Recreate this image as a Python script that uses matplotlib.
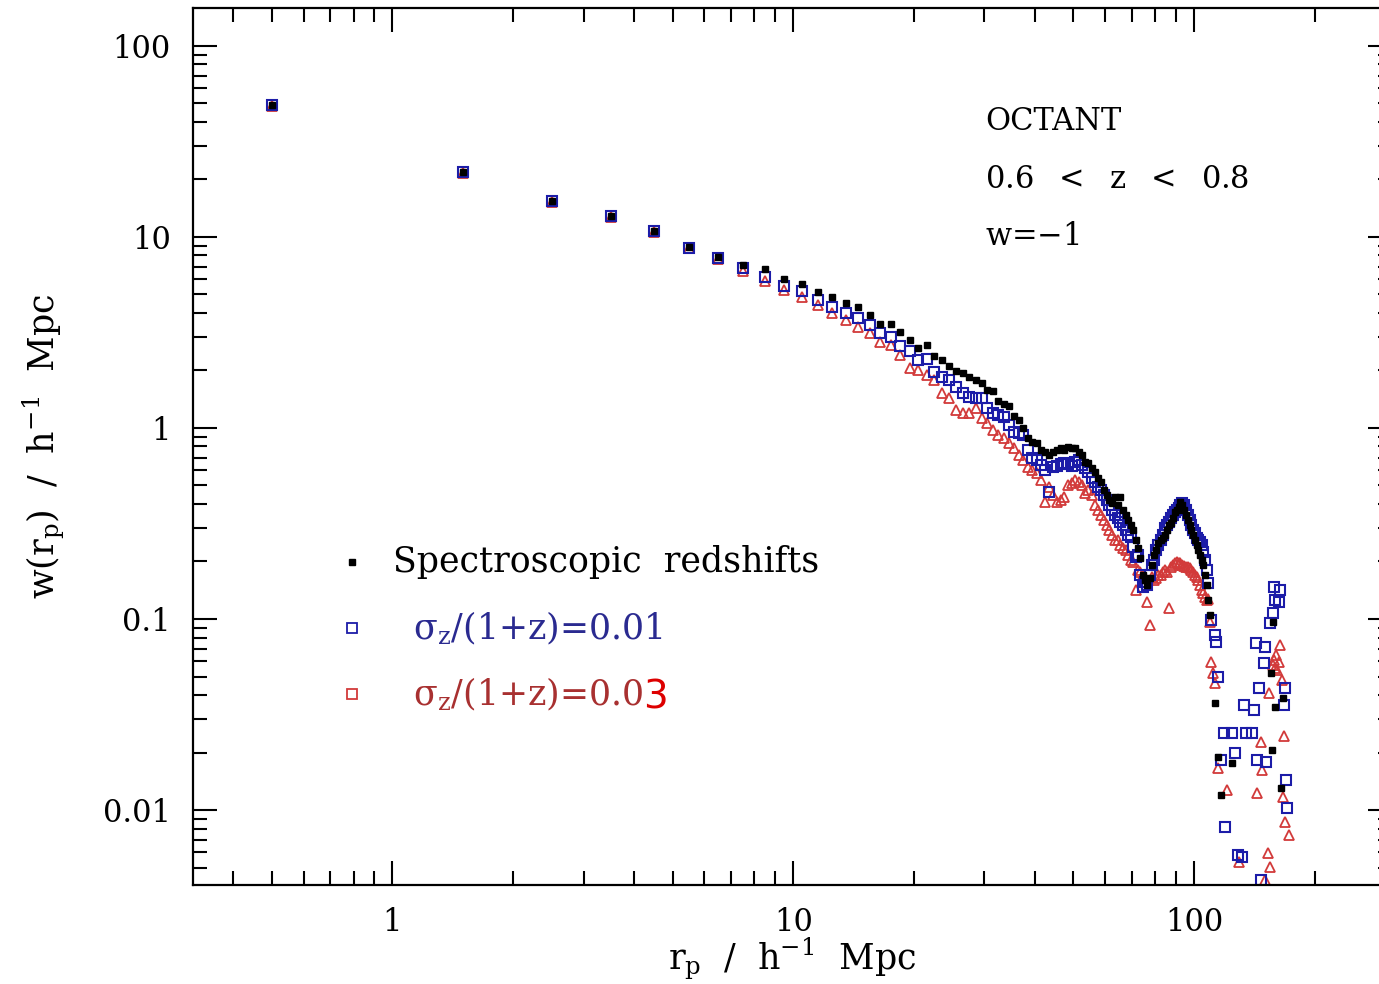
import matplotlib.pyplot as plt
from matplotlib.ticker import FixedLocator, FixedFormatter, LogLocator, NullFormatter

plt.rcParams['font.family'] = 'DejaVu Serif'
plt.rcParams['mathtext.fontset'] = 'dejavuserif'

# bin centres (h^-1 Mpc) shared by the three series up to 108.5
r_grid = [0.5, 1.5, 2.5, 3.5, 4.5, 5.5, 6.5, 7.5, 8.5, 9.5,
          10.5, 11.5, 12.5, 13.5, 14.5, 15.5, 16.5, 17.5, 18.5, 19.5,
          20.5, 21.5, 22.5, 23.5, 24.5, 25.5, 26.5, 27.5, 28.5, 29.5,
          30.5, 31.5, 32.5, 33.5, 34.5, 35.5, 36.5, 37.5, 38.5, 39.5,
          40.5, 41.5, 42.5, 43.5, 44.5, 45.5, 46.5, 47.5, 48.5, 49.5,
          50.5, 51.5, 52.5, 53.5, 54.5, 55.5, 56.5, 57.5, 58.5, 59.5,
          60.5, 61.5, 62.5, 63.5, 64.5, 65.5, 66.5, 67.5, 68.5, 69.5,
          70.5, 71.5, 72.5, 73.5, 74.5, 75.5, 76.5, 77.5, 78.5, 79.5,
          80.5, 81.5, 82.5, 83.5, 84.5, 85.5, 86.5, 87.5, 88.5, 89.5,
          90.5, 91.5, 92.5, 93.5, 94.5, 95.5, 96.5, 97.5, 98.5, 99.5,
          100.5, 101.5, 102.5, 103.5, 104.5, 105.5, 106.5, 107.5, 108.5]

# spectroscopic redshifts
w_spec = [49.1, 21.9, 15.4, 12.9, 10.7, 8.87, 7.86, 7.13, 6.81, 6.02,
          5.67, 5.16, 4.85, 4.51, 4.30, 3.90, 3.50, 3.50, 3.18, 2.89,
          2.62, 2.72, 2.38, 2.27, 2.11, 1.99, 1.94, 1.85, 1.78, 1.72,
          1.58, 1.56, 1.38, 1.34, 1.30, 1.16, 1.10, 1.00, 0.886, 0.845,
          0.835, 0.767, 0.749, 0.722, 0.749, 0.767, 0.786, 0.767, 0.795, 0.786,
          0.786, 0.749, 0.722, 0.664, 0.656, 0.617, 0.589, 0.548, 0.522, 0.474,
          0.446, 0.420, 0.405, 0.435, 0.395, 0.435, 0.372, 0.350, 0.330, 0.311,
          0.293, 0.259, 0.236, 0.209, 0.170, 0.160, 0.151, 0.163, 0.192, 0.216,
          0.230, 0.250, 0.259, 0.265, 0.275, 0.293, 0.311, 0.318, 0.338, 0.364,
          0.372, 0.386, 0.410, 0.395, 0.372, 0.350, 0.330, 0.311, 0.293, 0.275,
          0.259, 0.244, 0.230, 0.216, 0.204, 0.192, 0.170, 0.151, 0.126]
r_spec_tail = [109.5, 112.5, 114.5, 116.5, 124.5, 155.5, 156.5, 157.5, 159.5, 164.5, 166.5]
w_spec_tail = [0.105, 0.0363, 0.0190, 0.0120, 0.0176, 0.0523, 0.0207, 0.0964, 0.0345, 0.0130, 0.0386]

# sigma_z/(1+z) = 0.01
w_s01 = [49.1, 21.9, 15.4, 12.9, 10.7, 8.80, 7.80, 6.89, 6.18, 5.53,
         5.21, 4.68, 4.30, 4.00, 3.77, 3.46, 3.14, 2.99, 2.69, 2.53,
         2.27, 2.30, 1.96, 1.85, 1.78, 1.64, 1.52, 1.45, 1.44, 1.44,
         1.27, 1.20, 1.17, 1.14, 1.04, 0.953, 0.942, 0.919, 0.767, 0.696,
         0.680, 0.641, 0.603, 0.463, 0.625, 0.633, 0.648, 0.656, 0.648, 0.633,
         0.664, 0.680, 0.641, 0.617, 0.589, 0.548, 0.522, 0.491, 0.474, 0.446,
         0.420, 0.395, 0.372, 0.350, 0.338, 0.322, 0.311, 0.293, 0.275, 0.269,
         0.238, 0.211, 0.216, 0.170, 0.147, 0.156, 0.151, 0.170, 0.192, 0.204,
         0.230, 0.244, 0.259, 0.275, 0.300, 0.311, 0.322, 0.338, 0.350, 0.364,
         0.372, 0.381, 0.395, 0.405, 0.395, 0.372, 0.350, 0.330, 0.311, 0.293,
         0.282, 0.265, 0.259, 0.253, 0.244, 0.225, 0.204, 0.180, 0.154]
r_s01_tail = [110.5, 112.5, 113.5, 114.5, 116.5, 118.5, 119.5, 124.5, 126.5, 128.5,
              131.5, 133.5, 134.5, 139.5, 141.5, 142.5, 143.5, 145.5, 146.5, 149.5,
              150.5, 151.5, 154.5, 157.5, 158.5, 159.5, 162.5, 163.5, 167.5, 168.5,
              169.5, 170.5]
w_s01_tail = [0.0988, 0.0824, 0.0757, 0.0497, 0.0183, 0.0253, 0.00818, 0.0253, 0.0198, 0.00585,
              0.00565, 0.0354, 0.0253, 0.0253, 0.0334, 0.0749, 0.0183, 0.0436, 0.00431, 0.0589,
              0.0713, 0.0179, 0.0952, 0.107, 0.147, 0.126, 0.123, 0.142, 0.0354, 0.0436,
              0.0144, 0.0103]

# sigma_z/(1+z) = 0.03
w_s03 = [48.5, 21.6, 15.2, 12.7, 10.6, 8.70, 7.70, 6.64, 5.89, 5.28,
         4.85, 4.40, 4.00, 3.68, 3.38, 3.14, 2.82, 2.72, 2.41, 2.06,
         2.01, 1.89, 1.78, 1.52, 1.44, 1.24, 1.20, 1.20, 1.27, 1.13,
         1.06, 0.976, 0.919, 0.886, 0.835, 0.786, 0.722, 0.680, 0.625, 0.603,
         0.581, 0.534, 0.410, 0.491, 0.446, 0.410, 0.420, 0.436, 0.503, 0.515,
         0.534, 0.522, 0.503, 0.457, 0.474, 0.446, 0.395, 0.372, 0.350, 0.330,
         0.311, 0.293, 0.275, 0.259, 0.259, 0.244, 0.236, 0.230, 0.216, 0.204,
         0.199, 0.142, 0.180, 0.176, 0.170, 0.166, 0.123, 0.0933, 0.166, 0.160,
         0.163, 0.170, 0.170, 0.176, 0.180, 0.176, 0.114, 0.187, 0.192, 0.197,
         0.199, 0.197, 0.197, 0.192, 0.190, 0.187, 0.187, 0.185, 0.180, 0.176,
         0.170, 0.166, 0.160, 0.151, 0.142, 0.137, 0.130, 0.126, 0.128]
r_s03_tail = [109.5, 110.5, 111.5, 112.5, 114.5, 120.5, 129.5, 143.5, 146.5, 147.5,
              150.5, 152.5, 153.5, 154.5, 157.5, 158.5, 159.5, 160.5, 161.5, 162.5,
              163.5, 165.5, 166.5, 167.5, 168.5, 172.5]
w_s03_tail = [0.0965, 0.0595, 0.0522, 0.0463, 0.0166, 0.0128, 0.00534, 0.0123, 0.0227, 0.0162,
              0.00431, 0.00595, 0.0409, 0.00502, 0.0575, 0.0610, 0.0553, 0.0648, 0.0541, 0.0595,
              0.0732, 0.0480, 0.0117, 0.0243, 0.00866, 0.00742]

blue = '#1c1ca8'
red = '#d23a3a'

fig = plt.figure(figsize=(13.79, 9.84), dpi=100)
ax = fig.add_axes([0.14, 0.1006, 0.8695, 0.8913])

ax.plot(r_grid + r_s03_tail, w_s03 + w_s03_tail, linestyle='none', marker='^',
        markersize=7, markerfacecolor='none', markeredgecolor=red, markeredgewidth=1.3)
ax.plot(r_grid + r_s01_tail, w_s01 + w_s01_tail, linestyle='none', marker='s',
        markersize=7.5, markerfacecolor='none', markeredgecolor=blue, markeredgewidth=1.5)
ax.plot(r_grid + r_spec_tail, w_spec + w_spec_tail, linestyle='none', marker='s',
        markersize=4.5, color='black')

ax.set_xscale('log')
ax.set_yscale('log')
ax.set_xlim(0.318, 312)
ax.set_ylim(0.00405, 158)

ax.xaxis.set_major_locator(FixedLocator([1, 10, 100]))
ax.xaxis.set_major_formatter(FixedFormatter(['1', '10', '100']))
ax.yaxis.set_major_locator(FixedLocator([0.01, 0.1, 1, 10, 100]))
ax.yaxis.set_major_formatter(FixedFormatter(['0.01', '0.1', '1', '10', '100']))
ax.xaxis.set_minor_locator(LogLocator(base=10, subs=range(2, 10), numticks=20))
ax.yaxis.set_minor_locator(LogLocator(base=10, subs=range(2, 10), numticks=20))
ax.xaxis.set_minor_formatter(NullFormatter())
ax.yaxis.set_minor_formatter(NullFormatter())

ax.tick_params(which='both', direction='in', top=True, right=True, width=1.5, labelsize=22)
ax.tick_params(which='major', length=17, pad=16)
ax.tick_params(which='minor', length=10)
for s in ax.spines.values():
    s.set_linewidth(1.6)

ax.set_xlabel(r'$\mathrm{r_p\ \ /\ \ h^{-1}\ \ Mpc}$', fontsize=25, labelpad=-2)
ax.set_ylabel(r'$\mathrm{w(r_p)\ \ /\ \ h^{-1}\ \ Mpc}$', fontsize=25, labelpad=26)

# annotation block
ax.text(0.6605, 0.871, 'OCTANT', transform=ax.transAxes, fontsize=22, va='center')
ax.text(0.6605, 0.804, r'0.6  $<$  z  $<$  0.8', transform=ax.transAxes, fontsize=22, va='center')
ax.text(0.6605, 0.739, r'w=$-$1', transform=ax.transAxes, fontsize=22, va='center')

# hand-made legend
ax.plot([0.1326], [0.368], transform=ax.transAxes, marker='s', markersize=4.5,
        color='black', linestyle='none')
ax.text(0.1668, 0.368, 'Spectroscopic  redshifts', transform=ax.transAxes,
        fontsize=25, va='center')
ax.plot([0.1326], [0.293], transform=ax.transAxes, marker='s', markersize=7,
        markerfacecolor='none', markeredgecolor=blue, markeredgewidth=1.3, linestyle='none')
ax.text(0.1835, 0.293, r'$\mathrm{\sigma_z}$/(1+z)=0.01', transform=ax.transAxes,
        fontsize=25, va='center', color='#2a2a90')
ax.plot([0.1326], [0.218], transform=ax.transAxes, marker='s', markersize=7,
        markerfacecolor='none', markeredgecolor=red, markeredgewidth=1.3, linestyle='none')
t3 = ax.text(0.1835, 0.218, r'$\mathrm{\sigma_z}$/(1+z)=0.0', transform=ax.transAxes,
             fontsize=25, va='center', color='#a83030')
ax.annotate('3', xy=(1, 0.5), xycoords=t3, xytext=(0, -3), textcoords='offset points',
            fontsize=28, va='center', ha='left', color='#dd0000', family='DejaVu Sans')

fig.savefig('out.png', dpi=100)
